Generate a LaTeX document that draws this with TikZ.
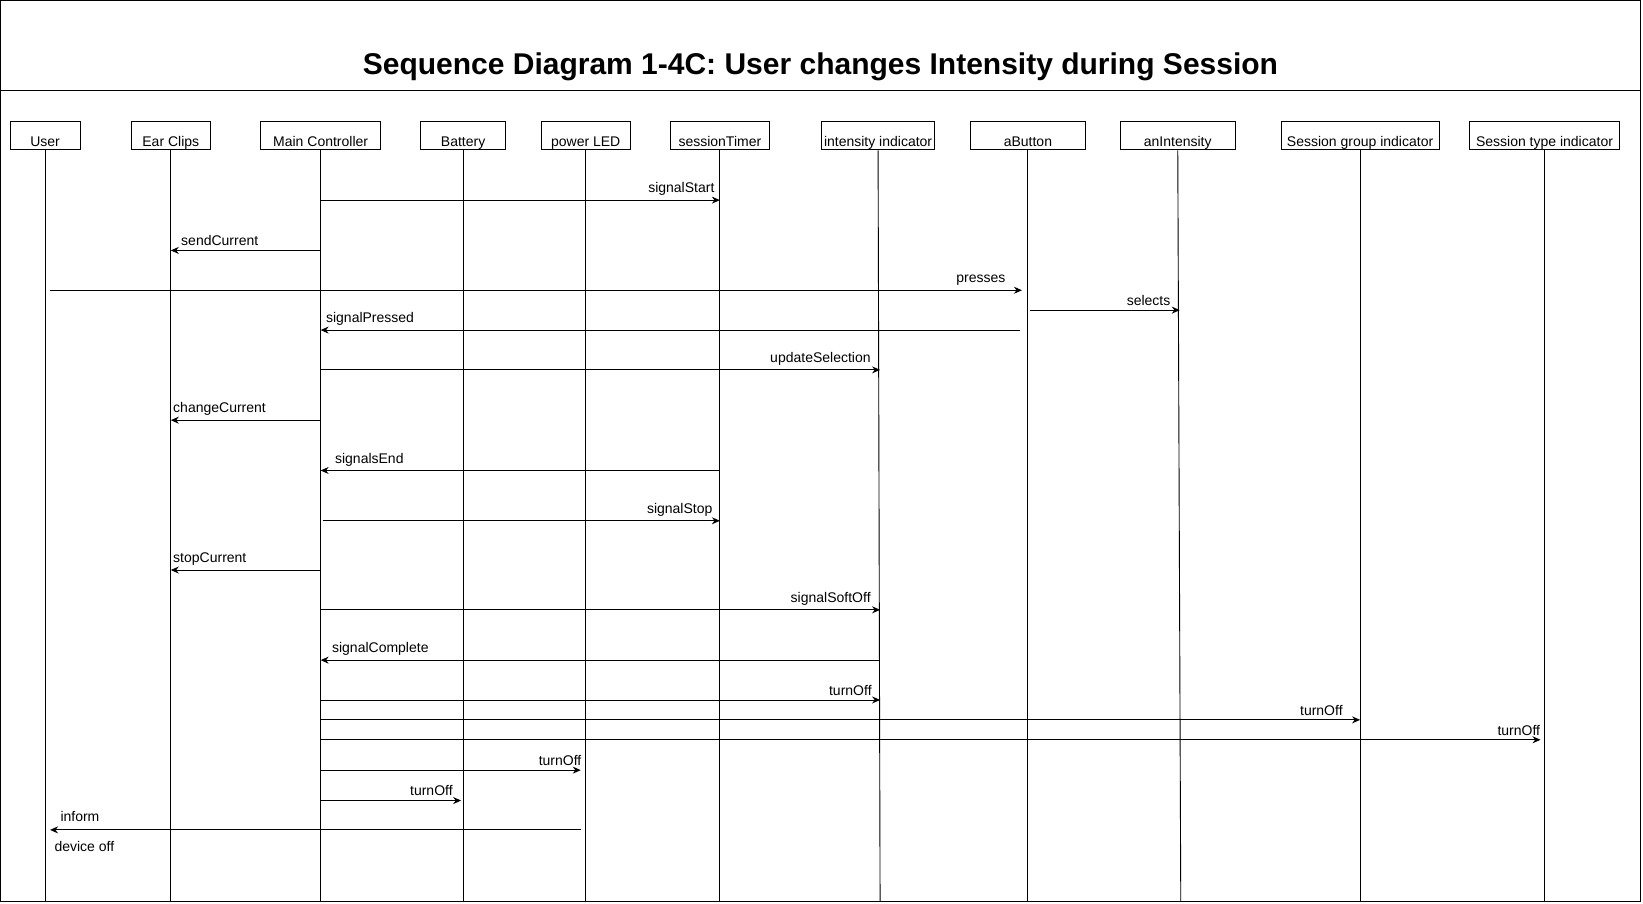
\documentclass[tikz,border=0pt]{standalone}
\usepackage{fontspec}
\setmainfont{Liberation Sans}
\usetikzlibrary{positioning}
\usetikzlibrary{arrows.meta}

\begin{document}
\begin{tikzpicture}[x=1.0478pt,y=-1.0478pt,line width=0.9pt,
  obj/.style={draw,minimum height=28.3pt,inner sep=1pt,text height=24pt,text depth=1.5pt,font=\fontsize{14}{16}\selectfont},
  msg/.style={-{Stealth[length=8pt,width=7pt]}},
  lbl/.style={font=\fontsize{14}{16}\selectfont,inner sep=1pt}]
 \useasboundingbox (0,0) rectangle (1568,862);
 \draw (0.6,0.6) rectangle (1566,860);
 \draw (0.6,86) -- (1566,86);
 \node (title) at (783,64) {\fontsize{30}{35}\selectfont\bfseries Sequence Diagram 1-4C: User changes Intensity during Session};
 \coordinate (bot) at (0,860);

 \node[obj,minimum width=70.2pt] (user) at (43,129.5) {User};
 \node[obj,minimum width=78.6pt] (ear) at (163,129.5) {Ear Clips};
 \node[obj,minimum width=120.5pt] (mc) at (306,129.5) {Main Controller};
 \node[obj,minimum width=84.9pt] (bat) at (442,129.5) {Battery};
 \node[obj,minimum width=89.1pt] (led) at (559,129.5) {power LED};
 \node[obj,minimum width=99.5pt] (timer) at (687,129.5) {sessionTimer};
 \node[obj,minimum width=113.2pt] (ind) at (838,129.5) {intensity indicator};
 \node[obj,minimum width=114.2pt] (btn) at (981,129.5) {aButton};
 \node[obj,minimum width=115.3pt] (inten) at (1124,129.5) {anIntensity};
 \node[obj,minimum width=158.2pt] (sgi) at (1298,129.5) {Session group indicator};
 \node[obj,minimum width=149.8pt] (sti) at (1474,129.5) {Session type indicator};

 \draw (user.south) -- (user.south |- bot);
 \draw (ear.south) -- (ear.south |- bot);
 \draw (mc.south) -- (mc.south |- bot);
 \draw (bat.south) -- (bat.south |- bot);
 \draw (led.south) -- (led.south |- bot);
 \draw (timer.south) -- (timer.south |- bot);
 \draw (ind.south) -- ([xshift=2]ind.south |- bot);
 \draw (btn.south) -- (btn.south |- bot);
 \draw (inten.south) -- ([xshift=3]inten.south |- bot);
 \draw (sgi.south) -- (sgi.south |- bot);
 \draw (sti.south) -- (sti.south |- bot);

 \draw[msg] (mc |- 0,191) -- (timer |- 0,191) node[lbl,pos=1,anchor=south east,xshift=-4,yshift=3] {signalStart};
 \draw[msg] (mc |- 0,239) -- (ear |- 0,239) node[lbl,pos=1,anchor=south west,xshift=9,yshift=3] {sendCurrent};
 \draw[msg] ([xshift=5]user |- 0,277) -- ([xshift=-6]btn |- 0,277) node[lbl,pos=1,anchor=south east,xshift=-15,yshift=3] {presses};
 \draw[msg] ([xshift=2]btn |- 0,296) -- ([xshift=2]inten |- 0,296) node[lbl,pos=1,anchor=south east,xshift=-8,yshift=3] {selects};
 \draw[msg] ([xshift=-8]btn |- 0,315) -- (mc |- 0,315) node[lbl,pos=1,anchor=south west,xshift=4,yshift=3] {signalPressed};
 \draw[msg] (mc |- 0,353) -- ([xshift=2]ind |- 0,353) node[lbl,pos=1,anchor=south east,xshift=-8,yshift=3] {updateSelection};
 \draw[msg] (mc |- 0,401) -- (ear |- 0,401) node[lbl,pos=1,anchor=south west,xshift=1,yshift=3] {changeCurrent};
 \draw[msg] (timer |- 0,449) -- (mc |- 0,449) node[lbl,pos=1,anchor=south west,xshift=13,yshift=3] {signalsEnd};
 \draw[msg] ([xshift=2]mc |- 0,497) -- (timer |- 0,497) node[lbl,pos=1,anchor=south east,xshift=-6,yshift=3] {signalStop};
 \draw[msg] (mc |- 0,544) -- (ear |- 0,544) node[lbl,pos=1,anchor=south west,xshift=1,yshift=3] {stopCurrent};
 \draw[msg] (mc |- 0,582) -- ([xshift=2]ind |- 0,582) node[lbl,pos=1,anchor=south east,xshift=-8,yshift=3] {signalSoftOff};
 \draw[msg] ([xshift=2]ind |- 0,630) -- (mc |- 0,630) node[lbl,pos=1,anchor=south west,xshift=10,yshift=3] {signalComplete};
 \draw[msg] (mc |- 0,668) -- ([xshift=2]ind |- 0,668) node[lbl,pos=1,anchor=south east,xshift=-7,yshift=3] {turnOff};
 \draw[msg] (mc |- 0,687) -- (sgi |- 0,687) node[lbl,pos=1,anchor=south east,xshift=-16,yshift=3] {turnOff};
 \draw[msg] (mc |- 0,706) -- ([xshift=-4]sti |- 0,706) node[lbl,pos=1,anchor=south east,xshift=1,yshift=3] {turnOff};
 \draw[msg] (mc |- 0,735) -- ([xshift=-5]led |- 0,735) node[lbl,pos=1,anchor=south east,xshift=2,yshift=3] {turnOff};
 \draw[msg] (mc |- 0,764) -- ([xshift=-2]bat |- 0,764) node[lbl,pos=1,anchor=south east,xshift=-7,yshift=3] {turnOff};
 \draw[msg] ([xshift=-5]led |- 0,792) -- ([xshift=5]user |- 0,792)
   node[lbl,pos=1,anchor=south west,xshift=9,yshift=7] {inform}
   node[lbl,pos=1,anchor=north west,xshift=3,yshift=-10] {device off};
\end{tikzpicture}
\end{document}
